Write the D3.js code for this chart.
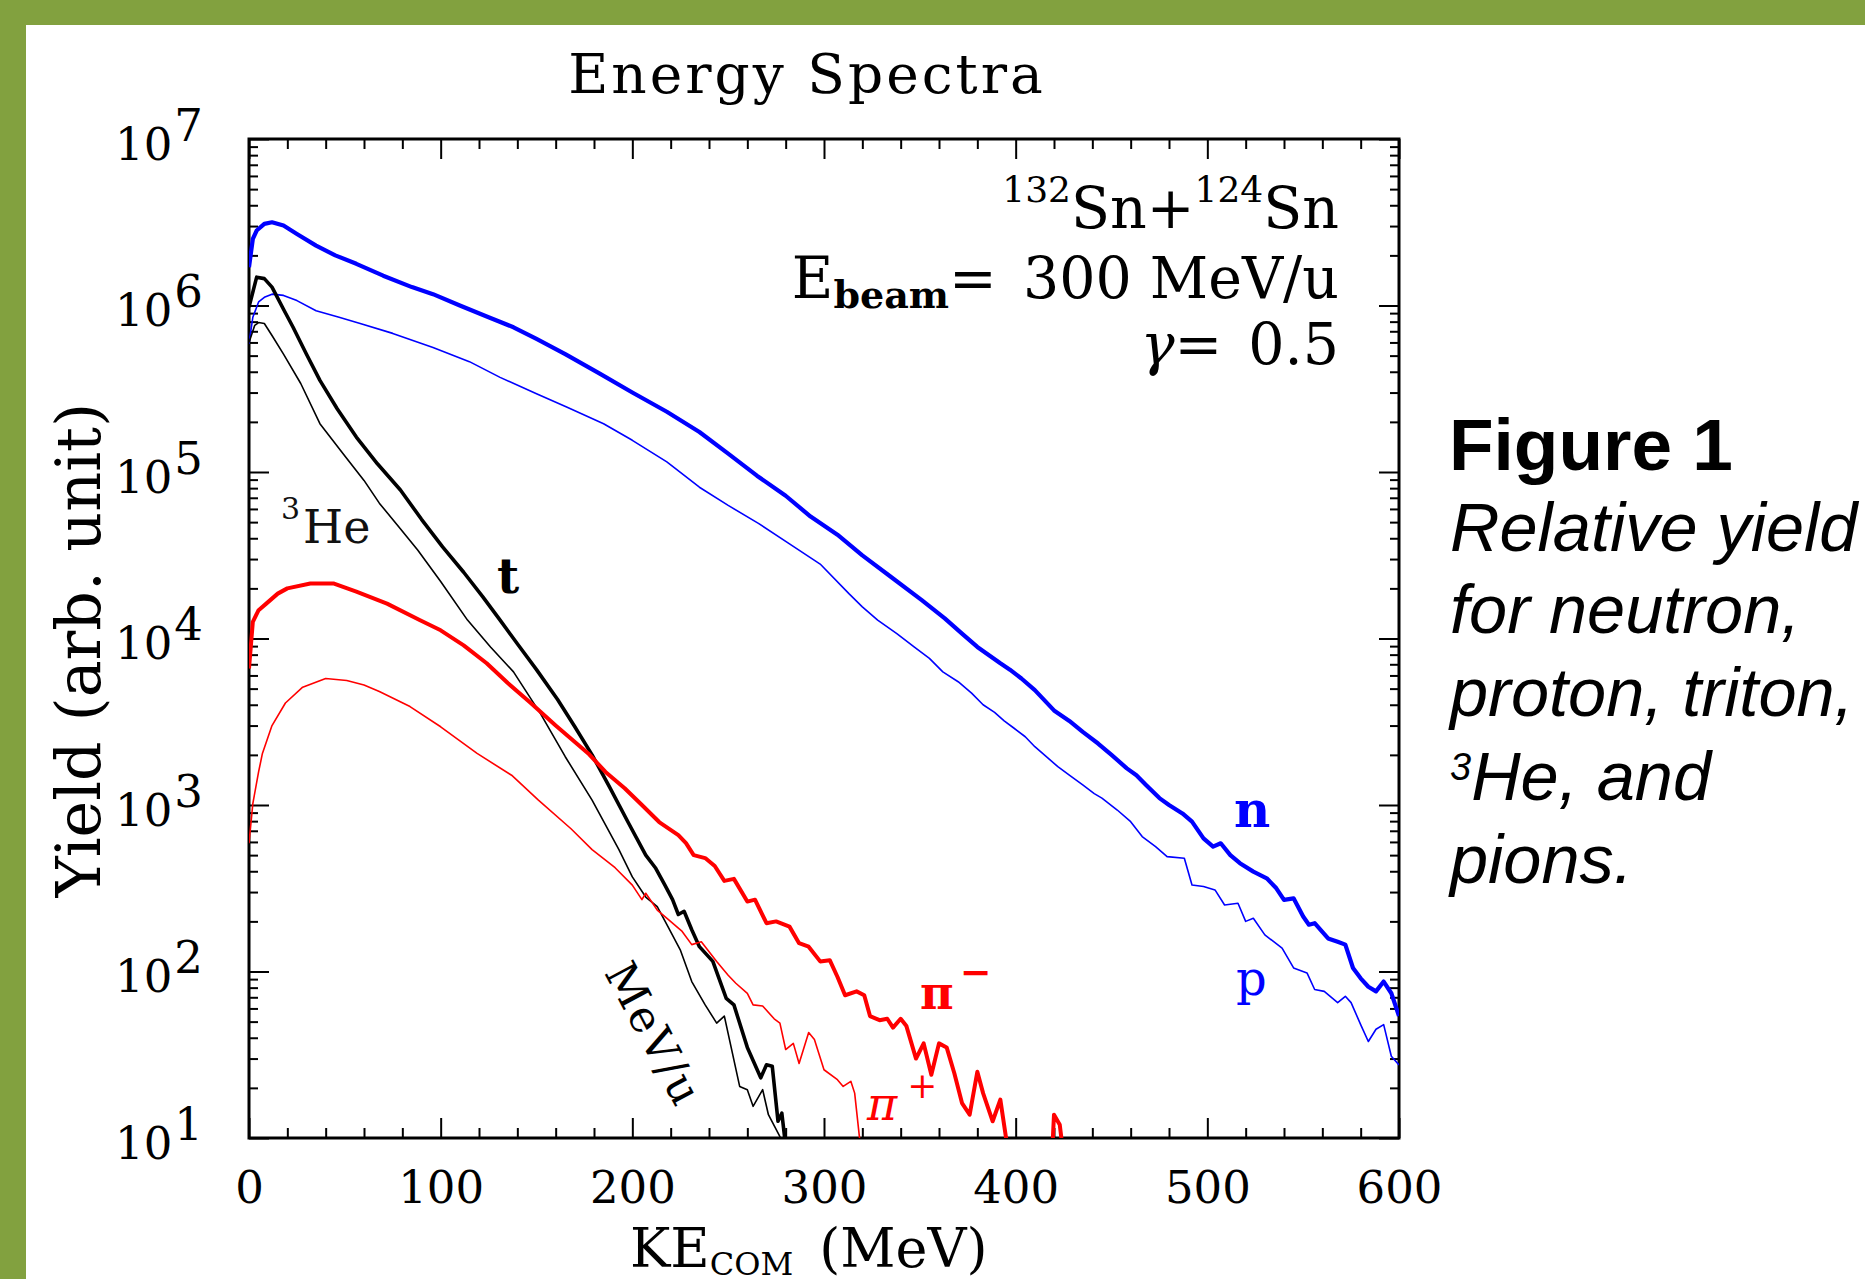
<!DOCTYPE html>
<html>
<head>
<meta charset="utf-8">
<script src="https://cdn.jsdelivr.net/npm/d3@7/dist/d3.min.js"></script>
<style>
  body { margin: 0; background: #fff; }
  svg text { font-family: "DejaVu Serif", serif; }
  .caption { font-family: "Liberation Sans", Arial, sans-serif; }
</style>
</head>
<body>
<div id="chart"></div>
<script>
// ---- data: [KE_COM (MeV), yield (arb. unit)] ----
var neutron = [
  [0,1.70e6],[2,2.51e6],[4,2.82e6],[8,3.09e6],[12,3.16e6],[18,3.02e6],[25,2.69e6],[35,2.29e6],
  [45,2.00e6],[56,1.78e6],[70,1.51e6],[85,1.29e6],[96,1.17e6],[110,1.00e6],[125,8.5e5],[138,7.4e5],
  [150,6.3e5],[165,5.1e5],[183,3.9e5],[200,3.0e5],[218,2.3e5],[235,1.74e5],[250,1.29e5],[265,9.5e4],
  [280,7.2e4],[293,5.4e4],[307,4.2e4],[320,3.16e4],[335,2.34e4],[351,1.70e4],[363,1.32e4],[372,1.07e4],
  [380,8.9e3],[392,7.1e3],[397,6.5e3],[403,5.75e3],[410,4.9e3],[420,3.7e3],[428,3.2e3],[435,2.75e3],
  [443,2.34e3],[450,2.0e3],[458,1.66e3],[463,1.51e3],[468,1.32e3],[475,1.10e3],[480,1.0e3],[487,890],
  [492,794],[498,630],[503,562],[507,589],[512,500],[517,447],[524,398],[531,363],[536,316],[540,269],
  [545,275],[550,214],[553,191],[556,195],[563,158],[568,151],[572,145],[576,105],[580,91],[584,81],
  [588,76],[592,87],[596,74],[600,54]
];
var proton = [
  [0,5.9e5],[2,8.5e5],[5,1.05e6],[8,1.12e6],[12,1.17e6],[18,1.15e6],[25,1.07e6],[35,9.3e5],
  [47,8.5e5],[58,7.8e5],[75,6.8e5],[96,5.6e5],[115,4.6e5],[131,3.7e5],[150,2.95e5],[166,2.45e5],
  [185,1.95e5],[200,1.55e5],[218,1.15e5],[235,8.1e4],[250,6.3e4],[266,4.9e4],[282,3.7e4],[298,2.8e4],
  [313,1.86e4],[320,1.55e4],[328,1.29e4],[338,1.07e4],[347,8.9e3],[355,7.6e3],[362,6.3e3],[370,5.5e3],
  [377,4.7e3],[383,4.0e3],[389,3.6e3],[394,3.2e3],[399,2.9e3],[405,2.57e3],[410,2.24e3],[416,1.95e3],
  [422,1.70e3],[428,1.51e3],[435,1.32e3],[441,1.17e3],[445,1.10e3],[453,933],[460,794],[466,646],
  [473,562],[479,490],[488,479],[492,331],[498,324],[504,309],[509,251],[516,257],[520,200],[524,209],
  [530,166],[539,138],[545,105],[552,98],[556,78],[561,76],[568,65],[572,71],[575,65],[580,48],
  [584,38],[588,45],[592,48],[596,31],[600,27.5]
];
var triton = [
  [0,9.8e5],[4,1.48e6],[8,1.45e6],[12,1.29e6],[18,9.5e5],[23,7.4e5],[30,5.1e5],[37,3.55e5],
  [46,2.4e5],[56,1.62e5],[67,1.12e5],[79,7.8e4],[90,5.2e4],[101,3.55e4],[112,2.5e4],[122,1.78e4],
  [131,1.29e4],[140,9.3e3],[150,6.5e3],[161,4.3e3],[170,2.95e3],[179,2.0e3],[188,1.29e3],[198,780],
  [207,500],[212,420],[217,330],[221,270],[224,220],[227,230],[231,178],[235,141],[242,115],[249,69],
  [253,63],[260,35],[267,23],[270,27.5],[273,27],[276,12.6],[278,14.1],[281,7.1]
];
var helium3 = [
  [0,6.0e5],[3,7.6e5],[5,7.9e5],[8,7.8e5],[12,6.6e5],[18,5.1e5],[27,3.4e5],[37,1.95e5],
  [49,1.29e5],[60,8.9e4],[68,6.5e4],[78,4.7e4],[88,3.4e4],[100,2.2e4],[114,1.29e4],[126,8.9e3],
  [138,6.3e3],[152,3.55e3],[165,1.95e3],[179,1.07e3],[193,540],[200,370],[207,280],[213,245],
  [219,182],[225,135],[231,87],[238,63],[244,49],[248,54],[256,20.4],[260,19.5],[263,15.5],
  [268,19.5],[271,13.8],[277,10.2],[279,7.1]
];
var piMinus = [
  [0,6.6e3],[2,1.26e4],[5,1.48e4],[9,1.62e4],[15,1.86e4],[20,2.0e4],[32,2.14e4],[44,2.14e4],
  [56,1.91e4],[72,1.62e4],[89,1.29e4],[100,1.12e4],[112,9.1e3],[124,7.1e3],[135,5.4e3],[147,4.1e3],
  [160,3.0e3],[177,2.04e3],[186,1.58e3],[196,1.26e3],[205,1.0e3],[214,790],[224,660],[228,590],
  [232,500],[238,480],[243,430],[248,350],[253,360],[260,263],[264,270],[270,195],[275,200],[282,186],
  [287,148],[292,141],[298,115],[303,117],[307,93],[311,72],[317,76],[321,72],[324,54],[329,51],
  [333,52],[336,46],[340,52],[343,47],[348,30],[352,37],[356,24],[360,37],[364,35],[368,24.5],
  [372,16.2],[376,13.8],[380,25],[383,18.6],[388,12.6],[392,17],[397,7],[405,4],[414,4],[419,8],
  [420,13.8],[423,12],[426,6.3]
];
var piPlus = [
  [0,590],[2,1.02e3],[5,1.58e3],[7,2.04e3],[12,3.0e3],[19,4.1e3],[28,5.1e3],[40,5.75e3],
  [51,5.6e3],[60,5.25e3],[68,4.8e3],[84,3.9e3],[100,2.95e3],[119,2.04e3],[137,1.51e3],[151,1.07e3],
  [168,720],[179,540],[191,420],[200,330],[205,270],[207,295],[213,234],[219,204],[226,174],[231,145],
  [236,151],[244,115],[250,95],[254,85],[260,74],[263,63],[268,62],[274,52],[277,49],[280,34],
  [284,37],[287,28],[292,43],[295,39],[300,25.7],[307,22.4],[310,20.4],[314,21.9],[316,18.6],[320,7]
];

var xMajor = [0, 100, 200, 300, 400, 500, 600];
var xMinor = [20,40,60,80,120,140,160,180,220,240,260,280,320,340,360,380,420,440,460,480,520,540,560,580];
var yExponents = [1, 2, 3, 4, 5, 6, 7];
var captionLines = ["Relative yield", "for neutron,", "proton, triton,", "He, and", "pions."];

var width = 1865, height = 1279;
var pL = 249, pR = 1399, pT = 139, pB = 1138;
var green = "#82a13f";

var svg = d3.select("#chart").append("svg")
  .attr("width", width)
  .attr("height", height);

svg.append("rect").attr("width", width).attr("height", height).attr("fill", "#fff");
svg.append("rect").attr("x", 0).attr("y", 0).attr("width", width).attr("height", 25).attr("fill", green);
svg.append("rect").attr("x", 0).attr("y", 0).attr("width", 26).attr("height", height).attr("fill", green);

var x = d3.scaleLinear().domain([0, 600]).range([pL, pR]);
var y = d3.scaleLog().domain([10, 1e7]).range([pB, pT]);

var yMajor = yExponents.map(function(e) { return Math.pow(10, e); });
var yMinor = [];
yExponents.slice(0, -1).forEach(function(e) {
  for (var k = 2; k <= 9; k++) yMinor.push(k * Math.pow(10, e));
});

// ticks on all four sides, pointing inward
function ticks(axis, tr, len) {
  var g = svg.append("g").attr("transform", tr)
    .call(axis.tickSize(-len).tickFormat(""));
  g.select(".domain").remove();
  g.selectAll("line").attr("stroke", "#000").attr("stroke-width", 2);
  return g;
}
ticks(d3.axisBottom(x).tickValues(xMinor), "translate(0," + pB + ")", 10);
ticks(d3.axisTop(x).tickValues(xMinor), "translate(0," + pT + ")", 10);
ticks(d3.axisTop(x).tickValues(xMajor), "translate(0," + pT + ")", 20);
ticks(d3.axisLeft(y).tickValues(yMinor), "translate(" + pL + ",0)", 9);
ticks(d3.axisRight(y).tickValues(yMinor), "translate(" + pR + ",0)", 9);
ticks(d3.axisRight(y).tickValues(yMajor), "translate(" + pR + ",0)", 20);

// bottom axis with labels
var xg = svg.append("g").attr("transform", "translate(0," + pB + ")")
  .call(d3.axisBottom(x).tickValues(xMajor).tickSize(-20).tickPadding(33));
xg.select(".domain").remove();
xg.selectAll("line").attr("stroke", "#000").attr("stroke-width", 2);
xg.selectAll("text")
  .attr("y", 65).attr("dy", null)
  .attr("font-family", "DejaVu Serif").attr("font-size", 45).attr("fill", "#000");

// left axis with 10^n labels
var yg = svg.append("g").attr("transform", "translate(" + pL + ",0)")
  .call(d3.axisLeft(y).tickValues(yMajor).tickSize(-20).tickPadding(46));
yg.select(".domain").remove();
yg.selectAll("line").attr("stroke", "#000").attr("stroke-width", 2);
yg.selectAll("text")
  .attr("dy", 20)
  .attr("font-family", "DejaVu Serif").attr("font-size", 45).attr("fill", "#000")
  .each(function(d) {
    var t = d3.select(this).text("");
    t.append("tspan").text("10");
    t.append("tspan").attr("dy", -19).attr("dx", 2).text(Math.round(Math.log10(d)));
  });

// frame
svg.append("rect")
  .attr("x", pL).attr("y", pT)
  .attr("width", pR - pL).attr("height", pB - pT)
  .attr("fill", "none").attr("stroke", "#000").attr("stroke-width", 3);

// curves
svg.append("clipPath").attr("id", "plot-clip")
  .append("rect").attr("x", pL).attr("y", pT)
  .attr("width", pR - pL).attr("height", pB - pT);

var line = d3.line()
  .x(function(d) { return x(d[0]); })
  .y(function(d) { return y(d[1]); });

var series = [
  { data: proton,  color: "#0000ff", w: 1.6 },
  { data: neutron, color: "#0000ff", w: 4.2 },
  { data: helium3, color: "#000",    w: 1.6 },
  { data: triton,  color: "#000",    w: 3.6 },
  { data: piPlus,  color: "#ff0000", w: 1.6 },
  { data: piMinus, color: "#ff0000", w: 4 }
];

svg.append("g").attr("clip-path", "url(#plot-clip)")
  .selectAll("path")
  .data(series)
  .enter().append("path")
  .attr("d", function(s) { return line(s.data); })
  .attr("fill", "none")
  .attr("stroke", function(s) { return s.color; })
  .attr("stroke-width", function(s) { return s.w; })
  .attr("stroke-linejoin", "round");

// title and axis titles
svg.append("text")
  .attr("x", 807).attr("y", 93)
  .attr("text-anchor", "middle")
  .attr("font-size", 55).attr("letter-spacing", 3)
  .text("Energy Spectra");

svg.append("text")
  .attr("transform", "translate(100,650) rotate(-90)")
  .attr("text-anchor", "middle")
  .attr("font-size", 62)
  .text("Yield (arb. unit)");

var xt = svg.append("text").attr("x", 630).attr("y", 1267).attr("font-size", 54);
xt.append("tspan").text("KE");
xt.append("tspan").attr("font-size", 32).attr("dy", 8).text("COM");
xt.append("tspan").attr("dy", -8).attr("dx", 26).text("(MeV)");

// reaction annotation
var note = svg.append("g").attr("text-anchor", "end");
var l1 = note.append("text").attr("x", 1339).attr("y", 228).attr("font-size", 57);
l1.append("tspan").attr("font-size", 36).attr("dy", -26).text("132");
l1.append("tspan").attr("dy", 26).text("Sn+");
l1.append("tspan").attr("font-size", 36).attr("dy", -26).text("124");
l1.append("tspan").attr("dy", 26).text("Sn");

var l2 = note.append("text").attr("x", 1339).attr("y", 298).attr("font-size", 57);
l2.append("tspan").text("E");
l2.append("tspan").attr("font-size", 38).attr("font-weight", "bold").attr("dy", 10).text("beam");
l2.append("tspan").attr("dy", -10).text("=");
l2.append("tspan").attr("dx", 8).text(" 300 MeV/u");

var l3 = note.append("text").attr("x", 1339).attr("y", 364).attr("font-size", 57);
l3.append("tspan").attr("font-style", "italic").text("\u03b3");
l3.append("tspan").text("=");
l3.append("tspan").attr("dx", 8).text(" 0.5");

// curve labels
var he = svg.append("text").attr("x", 281).attr("y", 543).attr("font-size", 46).attr("fill", "#111");
he.append("tspan").attr("font-size", 30).attr("dy", -24).text("3");
he.append("tspan").attr("dy", 24).attr("dx", 3).text("He");

svg.append("text").attr("x", 497).attr("y", 593)
  .attr("font-size", 48).attr("font-weight", "bold").text("t");

svg.append("text").attr("x", 1234).attr("y", 827)
  .attr("font-size", 50).attr("font-weight", "bold").attr("fill", "#0000ff").text("n");

svg.append("text").attr("x", 1236).attr("y", 995)
  .attr("font-size", 48).attr("fill", "#0000ff").text("p");

var pm = svg.append("text").attr("x", 920).attr("y", 1009)
  .attr("font-size", 46).attr("font-weight", "bold").attr("fill", "#ff0000")
  .attr("font-family", "Liberation Serif");
pm.append("tspan").text("\u03c0");
pm.append("tspan").attr("font-size", 38).attr("dy", -24).attr("dx", 6).text("\u2212");

var pp = svg.append("text").attr("x", 867).attr("y", 1120)
  .attr("font-size", 46).attr("fill", "#ff0000")
  .attr("font-family", "Liberation Serif");
pp.append("tspan").attr("font-style", "italic").text("\u03c0");
pp.append("tspan").attr("font-size", 36).attr("dy", -22).attr("dx", 10).text("+");

svg.append("text")
  .attr("transform", "translate(654,1034) rotate(62)")
  .attr("text-anchor", "middle")
  .attr("dominant-baseline", "central")
  .attr("font-size", 44).attr("letter-spacing", 2)
  .text("MeV/u");

// caption on the right
svg.append("text").attr("class", "caption")
  .attr("x", 1449).attr("y", 470)
  .attr("font-size", 73).attr("font-weight", "bold")
  .text("Figure 1");

var capY = [551, 633, 716, 800, 883];
captionLines.forEach(function(s, i) {
  var t = svg.append("text").attr("class", "caption")
    .attr("x", 1450).attr("y", capY[i])
    .attr("font-size", 68.5).attr("font-style", "italic");
  if (i === 3) {
    t.append("tspan").attr("font-size", 38).attr("dy", -20).text("3");
    t.append("tspan").attr("dy", 20).text(s);
  } else {
    t.text(s);
  }
});
</script>
</body>
</html>
